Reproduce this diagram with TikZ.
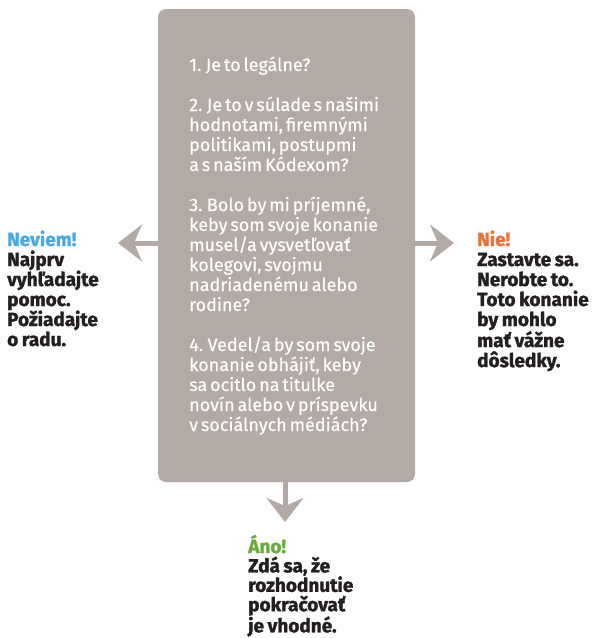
\documentclass[tikz,border=0pt]{standalone}
\usepackage{fontspec}
\setmainfont{Fira Sans}
\newfontfamily\boxfont[WordSpace=0.6,FakeBold=0.3]{Fira Sans}
\newfontfamily\heavyfont[BoldFeatures={FakeBold=1.5},WordSpace=0.8]{Fira Sans}
\usetikzlibrary{arrows.meta}
\definecolor{taupe}{HTML}{B4AAA5}
\definecolor{inkdark}{HTML}{231F20}
\definecolor{blueans}{HTML}{4DAAE0}
\definecolor{orangeans}{HTML}{E8733A}
\definecolor{greenans}{HTML}{6BAA3F}
\tikzset{
  qbox/.style={fill=taupe, draw=none, rounded corners=8pt, inner sep=0pt},
  qtext/.style={anchor=base west, inner sep=0pt, text=white},
  atext/.style={anchor=base west, inner sep=0pt, text=inkdark},
  arr/.style={draw=taupe, line width=5pt, -{Stealth[length=24pt,width=37pt,inset=8pt,fill=taupe]}}
}
\begin{document}
\begin{tikzpicture}[x=1pt,y=-1pt]
\useasboundingbox (0,0) rectangle (595,638);
\node[qbox, minimum width=257pt, minimum height=473pt] (q) at (286.5,245.5) {};
\node[qtext] (qt) at (189,71) {\parbox[t]{230pt}{\boxfont\fontsize{18}{20}\selectfont\raggedright
1. Je to legálne?\\[20pt]
2. Je to v súlade s našimi\\
hodnotami, firemnými\\
politikami, postupmi\\
a s naším Kódexom?\\[20pt]
3. Bolo by mi príjemné,\\
keby som svoje konanie\\
musel/a vysvetľovať\\
kolegovi, svojmu\\
nadriadenému alebo\\
rodine?\\[20pt]
4. Vedel/a by som svoje\\
konanie obhájiť, keby\\
sa ocitlo na titulke\\
novín alebo v príspevku\\
v sociálnych médiách?}};
\coordinate (ltip) at (118,243);
\coordinate (rtip) at (454,243);
\coordinate (dtip) at (285,522);
\draw[arr] (q.west |- ltip) -- (ltip);
\draw[arr] (q.east |- rtip) -- (rtip);
\draw[arr] (q.south -| dtip) -- (dtip);
\node[atext] (la) at (7,246) {\parbox[t]{120pt}{\heavyfont\bfseries\fontsize{19}{20}\selectfont\raggedright
\textcolor{blueans}{Neviem!}\\
Najprv\\
vyhľadajte\\
pomoc.\\
Požiadajte\\
o radu.}};
\node[atext] (ra) at (477,246) {\parbox[t]{120pt}{\heavyfont\bfseries\fontsize{19}{20}\selectfont\raggedright
\textcolor{orangeans}{Nie!}\\
Zastavte sa.\\
Nerobte to.\\
Toto konanie\\
by mohlo\\
mať vážne\\
dôsledky.}};
\node[atext] (da) at (248,553) {\parbox[t]{140pt}{\heavyfont\bfseries\fontsize{19}{19.4}\selectfont\raggedright
\textcolor{greenans}{Áno!}\\
Zdá sa, že\\
rozhodnutie\\
pokračovať\\
je vhodné.}};
\end{tikzpicture}
\end{document}
